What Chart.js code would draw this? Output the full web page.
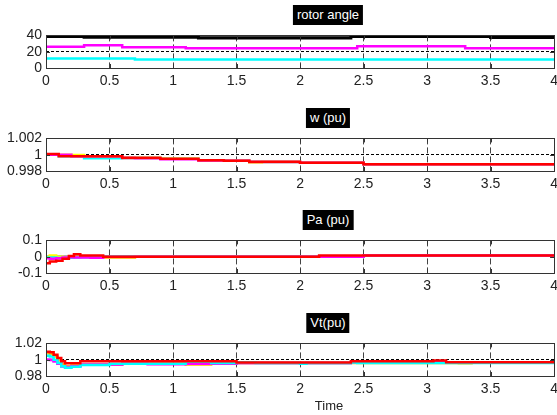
<!DOCTYPE html>
<html>
<head>
<meta charset="utf-8">
<script src="https://cdn.jsdelivr.net/npm/chart.js@4"></script>
<style>
body { margin:0; background:#fff; width:557px; height:415px; overflow:hidden; position:relative; font-family:"Liberation Sans", Arial, sans-serif; }
canvas { position:absolute; left:0; }
.title { position:absolute; background:#000; color:#fff; font-size:13px; height:20px; line-height:20px; padding:0 4px; transform:translateX(-50%); white-space:nowrap; }
#timeLabel { position:absolute; left:329px; top:398px; font-size:13px; color:#222; transform:translateX(-50%); }
</style>
</head>
<body>
<div class="title" style="left:328px; top:5px;">rotor angle</div>
<div class="title" style="left:328px; top:108px;">w (pu)</div>
<div class="title" style="left:328px; top:210px;">Pa (pu)</div>
<div class="title" style="left:328px; top:313px;">Vt(pu)</div>
<canvas id="rotorChart"></canvas>
<canvas id="wChart"></canvas>
<canvas id="paChart"></canvas>
<canvas id="vtChart"></canvas>
<div id="timeLabel">Time</div>
<script>
// rotor angle
const rotorTime = [0, 0.3, 0.6, 0.7, 1.1, 1.2, 2.4, 2.45, 3.3, 3.5, 4];
const rotorGray = [38.5, 39.3, 39.3, 39.3, 39.3, 39.0, 39.0, 39.0, 39.0, 38.0, 38.0];
const rotorBlack = [38.5, 37.6, 37.6, 37.6, 37.6, 36.8, 38.6, 38.6, 38.6, 37.5, 37.5];
const rotorMagenta = [26, 27.8, 25.5, 25.5, 24.3, 24.3, 24.3, 26.7, 24.3, 24.3, 24.3];
const rotorCyan = [11.8, 11.8, 11.8, 10.5, 10.5, 10.5, 10.5, 10.5, 10.5, 10.5, 10.5];
const rotorTicks = [0, 20, 40];
const rotorLabels = ["0", "20", "40"];

// w (pu)
const wTime = [0, 0.1, 0.2, 0.3, 0.6, 0.7, 0.9, 1.2, 1.4, 1.6, 1.7, 2.0, 2.5, 4];
const wRed = [1.0001, 0.9998, 0.9998, 0.9998, 0.99962, 0.99962, 0.9995, 0.99933, 0.99925, 0.99912, 0.99912, 0.999, 0.99884, 0.99884];
const wMagenta = [1.0, 0.99998, 0.9998, 0.9998, 0.9996, 0.99955, 0.99945, 0.9993, 0.99925, 0.9991, 0.9991, 0.999, 0.99884, 0.99884];
const wYellow = [1.0, 0.99998, 0.99995, 0.9998, 0.9996, 0.9996, 0.9995, 0.9993, 0.99925, 0.99905, 0.9991, 0.999, 0.99884, 0.99884];
const wCyan = [1.0, 0.9998, 0.9998, 0.99955, 0.9996, 0.9996, 0.9995, 0.9993, 0.99925, 0.9991, 0.9991, 0.999, 0.99884, 0.99884];
const wTicks = [0.998, 1, 1.002];
const wLabels = ["0.998", "1", "1.002"];

// Pa (pu)
const paTime = [0, 0.03, 0.08, 0.13, 0.18, 0.22, 0.27, 0.35, 0.45, 0.7, 2.15, 2.5, 4];
const paRed = [-0.04, -0.03, -0.025, -0.012, 0.005, 0.015, 0.008, 0.008, 0, 0, 0.008, 0.008, 0.008];
const paMagenta = [-0.01, -0.012, -0.01, -0.005, -0.003, -0.005, -0.005, -0.006, -0.002, 0, 0, 0.008, 0.008];
const paCyan = [-0.005, -0.005, -0.008, -0.01, -0.006, -0.005, -0.004, 0, 0, 0, 0, 0.008, 0.008];
const paYellow = [0, 0.008, 0, -0.005, 0, 0, 0, -0.006, -0.007, 0, 0, 0.008, 0.008];
const paGray = [0, 0, 0, 0, 0, 0, 0, 0, 0, 0, 0, 0.008, 0.008];
const paTicks = [-0.1, 0, 0.1];
const paLabels = ["-0.1", "0", "0.1"];

// Vt (pu)
const vtTime = [0, 0.03, 0.06, 0.09, 0.12, 0.15, 0.2, 0.27, 0.5, 0.6, 0.8, 1.1, 1.3, 1.5, 1.65, 2.0, 2.05, 2.4, 2.45, 3.05, 3.15, 3.25, 3.35, 4];
const vtRed = [1.0097, 1.009, 1.006, 1.002, 0.998, 0.9955, 0.9955, 0.998, 0.998, 0.998, 0.998, 0.998, 0.998, 0.9965, 0.9965, 0.9965, 0.9965, 0.998, 0.998, 0.999, 0.997, 0.997, 0.997, 0.997];
const vtCyan = [1.005, 1.004, 1.0, 0.996, 0.992, 0.990, 0.9915, 0.9935, 0.995, 0.995, 0.995, 0.9975, 0.996, 0.997, 0.996, 0.995, 0.996, 0.9965, 0.996, 0.996, 0.996, 0.996, 0.996, 0.996];
const vtMagenta = [1.0, 0.9995, 0.998, 0.995, 0.992, 0.991, 0.992, 0.994, 0.994, 0.995, 0.9945, 0.995, 0.995, 0.996, 0.996, 0.9955, 0.996, 0.997, 0.997, 0.997, 0.997, 0.997, 0.997, 0.997];
const vtYellow = [1.008, 1.007, 1.004, 0.999, 0.995, 0.992, 0.993, 0.9945, 0.9945, 0.995, 0.995, 0.994, 0.996, 0.996, 0.996, 0.996, 0.996, 0.996, 0.996, 0.996, 0.996, 0.9955, 0.997, 0.997];
const vtPurple = [1.0, 1.0, 0.998, 0.995, 0.992, 0.991, 0.992, 0.994, 0.994, 0.995, 0.995, 0.995, 0.995, 0.996, 0.996, 0.996, 0.996, 0.997, 0.997, 0.9965, 0.997, 0.997, 0.997, 0.997];
const vtTicks = [0.98, 1, 1.02];
const vtLabels = ["0.98", "1", "1.02"];

const timeTicks = [0, 0.5, 1, 1.5, 2, 2.5, 3, 3.5, 4];

function toPoints(times, values) {
    return times.map((t, i) => ({ x: t, y: values[i] }));
}

function line(times, values, color, width) {
    return {
        data: toPoints(times, values),
        borderColor: color,
        borderWidth: width || 2.5,
        pointRadius: 0,
        stepped: "before",   // value holds from its time to the next one
        fill: false
    };
}

// box round the plot area and the small inside tick marks
const framePlugin = {
    id: "frame",
    afterDatasetsDraw(chart) {
        const ctx = chart.ctx;
        const a = chart.chartArea;
        const sx = chart.scales.x;
        const sy = chart.scales.y;
        ctx.save();
        ctx.strokeStyle = "#333";
        ctx.lineWidth = 1;
        ctx.setLineDash([]);
        ctx.beginPath();
        sx.ticks.forEach(t => {
            const x = Math.round(sx.getPixelForValue(t.value)) + 0.5;
            ctx.moveTo(x, a.bottom); ctx.lineTo(x, a.bottom - 4);
            ctx.moveTo(x, a.top); ctx.lineTo(x, a.top + 4);
        });
        sy.ticks.forEach(t => {
            const y = Math.round(sy.getPixelForValue(t.value)) + 0.5;
            ctx.moveTo(a.left, y); ctx.lineTo(a.left + 4, y);
            ctx.moveTo(a.right, y); ctx.lineTo(a.right - 4, y);
        });
        ctx.stroke();
        ctx.strokeRect(Math.round(a.left) + 0.5, Math.round(a.top) + 0.5,
            Math.round(a.width), Math.round(a.height));
        ctx.restore();
    }
};

function makePlot(id, plotTop, datasets, yTicks, yLabels) {
    const canvas = document.getElementById(id);
    canvas.width = 563;
    canvas.height = 69;
    canvas.style.top = (plotTop - 10) + "px";

    return new Chart(canvas, {
        type: "line",
        data: { datasets: datasets },
        options: {
            responsive: false,
            animation: false,
            layout: { padding: { top: 10, right: 7, left: 0, bottom: 0 } },
            plugins: { legend: { display: false }, tooltip: { enabled: false } },
            scales: {
                x: {
                    type: "linear",
                    min: 0,
                    max: 4,
                    afterBuildTicks: s => { s.ticks = timeTicks.map(v => ({ value: v })); },
                    afterFit: s => { s.height = 24; },
                    grid: { color: "#444", lineWidth: 1, drawTicks: false },
                    border: { display: false, dash: [6, 3] },
                    ticks: {
                        padding: 5,
                        autoSkip: false,
                        color: "#222",
                        font: { family: "Liberation Sans", size: 14 },
                        maxRotation: 0,
                        callback: v => String(v)
                    }
                },
                y: {
                    min: yTicks[0],
                    max: yTicks[yTicks.length - 1],
                    afterBuildTicks: s => { s.ticks = yTicks.map(v => ({ value: v })); },
                    afterFit: s => { s.width = 46; },
                    grid: { color: "#000", lineWidth: 1, drawTicks: false },
                    border: { display: false, dash: [3, 2] },
                    ticks: {
                        padding: 4,
                        autoSkip: false,
                        color: "#222",
                        font: { family: "Liberation Sans", size: 14 },
                        callback: (v, i) => yLabels[i]
                    }
                }
            }
        },
        plugins: [framePlugin]
    });
}

makePlot("rotorChart", 33, [
    line(rotorTime, rotorBlack, "#000", 3),
    line(rotorTime, rotorGray, "#7a7a7a", 3),
    line(rotorTime, rotorMagenta, "#ff00ff"),
    line(rotorTime, rotorCyan, "#00ffff")
], rotorTicks, rotorLabels);

makePlot("wChart", 136, [
    line(wTime, wRed, "#ff0000"),
    line(wTime, wMagenta, "#ff00ff"),
    line(wTime, wYellow, "#ffff00"),
    line(wTime, wCyan, "#00ffff")
], wTicks, wLabels);

makePlot("paChart", 238, [
    line(paTime, paRed, "#ff0000"),
    line(paTime, paMagenta, "#ff00ff"),
    line(paTime, paCyan, "#00ffff"),
    line(paTime, paYellow, "#ffff00"),
    line(paTime, paGray, "#606060")
], paTicks, paLabels);

makePlot("vtChart", 341, [
    line(vtTime, vtRed, "#ff0000"),
    line(vtTime, vtCyan, "#00ffff"),
    line(vtTime, vtMagenta, "#ff00ff"),
    line(vtTime, vtYellow, "#ffc000"),
    line(vtTime, vtPurple, "#9966ff")
], vtTicks, vtLabels);
</script>
</body>
</html>
